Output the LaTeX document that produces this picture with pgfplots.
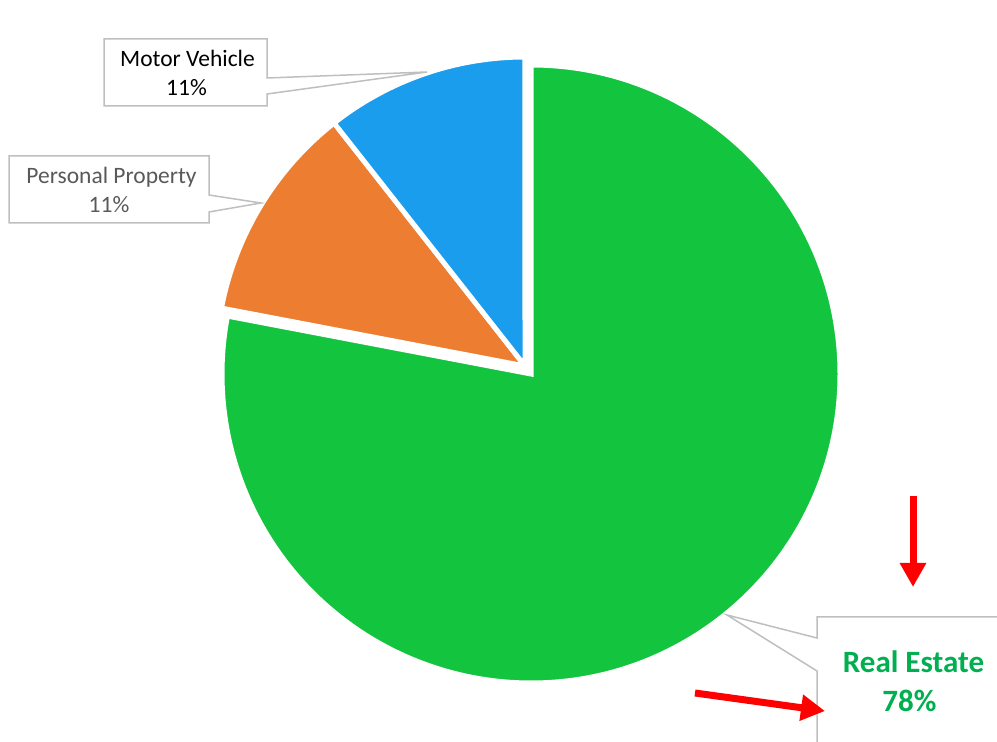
\documentclass[border=0pt]{standalone}
\usepackage{pgfplots}
\pgfplotsset{compat=1.18}
\usepackage{pgfplotstable}
\usetikzlibrary{arrows.meta}
\usepackage{fontspec}
\setmainfont{Carlito}
\definecolor{pgreen}{HTML}{13C43F}
\definecolor{porange}{HTML}{ED7D31}
\definecolor{pblue}{HTML}{1B9DEE}
\definecolor{tgreen}{HTML}{00B050}
\definecolor{tgray}{HTML}{595959}
\definecolor{boxgray}{HTML}{BFBFBF}

\pgfplotstableread{
label value
RealEstate 78.0
PersonalProperty 11.4
MotorVehicle 10.6
}\piedata

\begin{document}
\begin{tikzpicture}
\pgfplotstablegetelem{0}{value}\of\piedata \pgfmathsetmacro\vA{\pgfplotsretval}
\pgfplotstablegetelem{1}{value}\of\piedata \pgfmathsetmacro\vB{\pgfplotsretval}
\pgfplotstablegetelem{2}{value}\of\piedata \pgfmathsetmacro\vC{\pgfplotsretval}
\pgfmathsetmacro\tot{\vA+\vB+\vC}
\pgfmathsetmacro\aA{90-\vA/\tot*360}
\pgfmathsetmacro\aB{\aA-\vB/\tot*360}
\pgfmathsetmacro\aC{\aB-\vC/\tot*360}
\begin{axis}[
  x=1pt, y=1pt,
  xmin=0, xmax=997, ymin=0, ymax=742,
  hide axis, clip=false,
]
% pie slices
\filldraw[fill=pgreen, draw=white, line width=5pt, line join=miter]
  (axis cs:531,368) -- ++(90:309pt) arc[start angle=90, end angle=\aA, radius=309pt] -- cycle;
\filldraw[fill=porange, draw=white, line width=5pt, line join=miter]
  (axis cs:525,376) -- ++(\aA:309pt) arc[start angle=\aA, end angle=\aB, radius=309pt] -- cycle;
\filldraw[fill=pblue, draw=white, line width=5pt, line join=miter]
  (axis cs:525,376) -- ++(\aB:309pt) arc[start angle=\aB, end angle=\aC, radius=309pt] -- cycle;

% callouts
\draw[boxgray, line width=1.5pt, fill=white]
  (axis cs:104,703) -- (axis cs:267,703) -- (axis cs:267,664) -- (axis cs:427,670)
  -- (axis cs:267,648) -- (axis cs:267,636) -- (axis cs:104,636) -- cycle;
\draw[boxgray, line width=1.5pt, fill=white]
  (axis cs:9,586) -- (axis cs:209,586) -- (axis cs:209,547) -- (axis cs:261,539)
  -- (axis cs:209,530) -- (axis cs:209,519) -- (axis cs:9,519) -- cycle;
\draw[boxgray, line width=1.5pt, fill=white]
  (axis cs:817,125) -- (axis cs:1005,125) -- (axis cs:1005,-8) -- (axis cs:817,-8)
  -- (axis cs:817,71) -- (axis cs:727,127) -- (axis cs:817,104) -- cycle;

% labels
\node[anchor=base, font=\fontsize{23.5}{28}\selectfont, text=black] at (axis cs:187.5,675) {Motor Vehicle};
\node[anchor=base, font=\fontsize{23.5}{28}\selectfont, text=black] at (axis cs:186.5,646) {11\%};
\node[anchor=base, font=\fontsize{23.5}{28}\selectfont, text=tgray] at (axis cs:111.5,558) {Personal Property};
\node[anchor=base, font=\fontsize{23.5}{28}\selectfont, text=tgray] at (axis cs:109,529) {11\%};
\node[anchor=base, font=\bfseries\fontsize{31}{36}\selectfont, text=tgreen] at (axis cs:913.5,69) {Real Estate};
\node[anchor=base, font=\bfseries\fontsize{31}{36}\selectfont, text=tgreen] at (axis cs:909.5,30) {78\%};

% red arrows
\draw[red, line width=7pt, -{Triangle[length=24pt, width=25pt]}] (axis cs:913,246) -- (axis cs:913,155);
\draw[red, line width=7pt, -{Triangle[length=24pt, width=25pt]}] (axis cs:695,49) -- (axis cs:825,31);
\end{axis}
\pgfresetboundingbox
\path[use as bounding box] (0,0) rectangle (997pt,742pt);
\end{tikzpicture}
\end{document}
